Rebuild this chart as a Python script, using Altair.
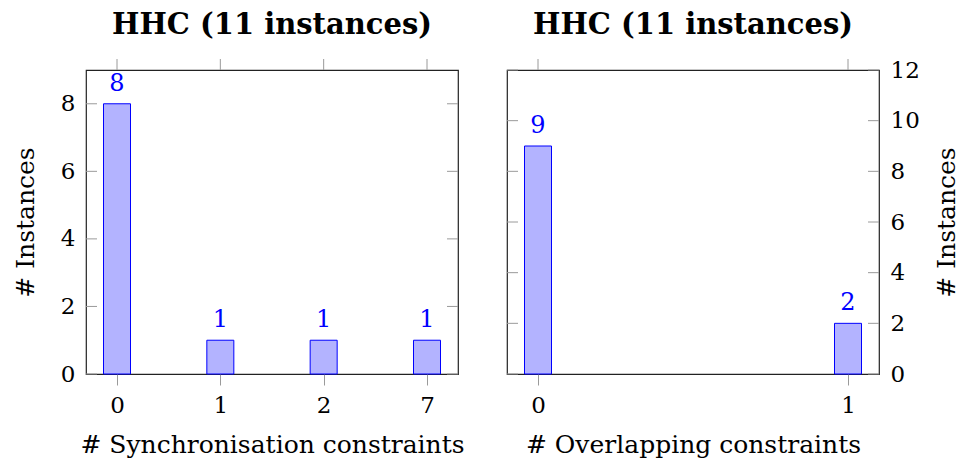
import altair as alt
import pandas as pd

# Histogram data: number of instances per constraint count
sync_cats = ["0", "1", "2", "7"]
sync_counts = [8, 1, 1, 1]
sync_yticks = [0, 2, 4, 6, 8]

overlap_cats = ["0", "1"]
overlap_counts = [9, 2]
overlap_yticks = [0, 2, 4, 6, 8, 10, 12]

title_text = "HHC (11 instances)"
FONT = "DejaVu Serif"
W, H = 372, 304
TICK = 11
TICK_COLOR = "#9a9a9a"
BAR_FILL = "#b3b3ff"
BAR_STROKE = "#0000ff"


def panel(cats, counts, yticks, ymax, pad, xtitle, yorient):
    df = pd.DataFrame({"c": cats, "n": counts})
    tdf = pd.DataFrame({"n": yticks})
    x_scale = alt.Scale(type="point", padding=pad)
    y_scale = alt.Scale(domain=[0, ymax], nice=False)

    x_enc = alt.X("c:O", sort=cats, scale=x_scale,
                  axis=alt.Axis(title=xtitle, labelAngle=0, ticks=True,
                                tickSize=TICK, tickColor=TICK_COLOR,
                                labelPadding=9, titlePadding=15))
    left_side = yorient == "left"
    y_enc = alt.Y("n:Q", scale=y_scale,
                  axis=alt.Axis(title="# Instances", orient=yorient,
                                values=yticks, ticks=False, labelPadding=11,
                                titlePadding=22 if left_side else 15,
                                titleAngle=270,
                                titleBaseline="bottom" if left_side else "top"))

    bars = alt.Chart(df).mark_bar(
        size=27, fill=BAR_FILL, stroke=BAR_STROKE, strokeWidth=1
    ).encode(x=x_enc, y=y_enc)

    labels = alt.Chart(df).mark_text(
        baseline="bottom", dy=-8, fontSize=24, font=FONT, color=BAR_STROKE
    ).encode(x=x_enc, y=y_enc, text="n:Q")

    # x ticks mirrored above the frame
    top_ticks = alt.Chart(df).mark_rule(color=TICK_COLOR, strokeWidth=1).encode(
        x=x_enc, y=alt.value(0), y2=alt.value(-TICK))

    # y ticks drawn inside the frame on both sides
    left_ticks = alt.Chart(tdf).mark_rule(color=TICK_COLOR, strokeWidth=1).encode(
        y=y_enc, x=alt.value(0), x2=alt.value(TICK))
    right_ticks = alt.Chart(tdf).mark_rule(color=TICK_COLOR, strokeWidth=1).encode(
        y=y_enc, x=alt.value(W - TICK), x2=alt.value(W))

    return alt.layer(bars, labels, top_ticks, left_ticks, right_ticks).properties(
        width=W, height=H,
        title=alt.TitleParams(title_text, fontSize=29, fontWeight="bold",
                              font=FONT, offset=19))


left = panel(sync_cats, sync_counts, sync_yticks, 9, 0.3,
             "# Synchronisation constraints", "left")
right = panel(overlap_cats, overlap_counts, overlap_yticks, 12, 0.1,
              "# Overlapping constraints", "right")

chart = alt.hconcat(left, right, spacing=49, bounds="flush").properties(
    background="white",
    padding={"left": 12, "right": 0, "top": 9, "bottom": 0},
).configure_view(
    stroke="#222222", strokeWidth=1.2
).configure_axis(
    labelFont=FONT, titleFont=FONT, labelFontSize=23, titleFontSize=25,
    labelColor="black", titleColor="black", titleFontWeight="normal",
    domain=False, grid=False
)

chart.save("out.html", embed_options={"renderer": "svg", "actions": False})
